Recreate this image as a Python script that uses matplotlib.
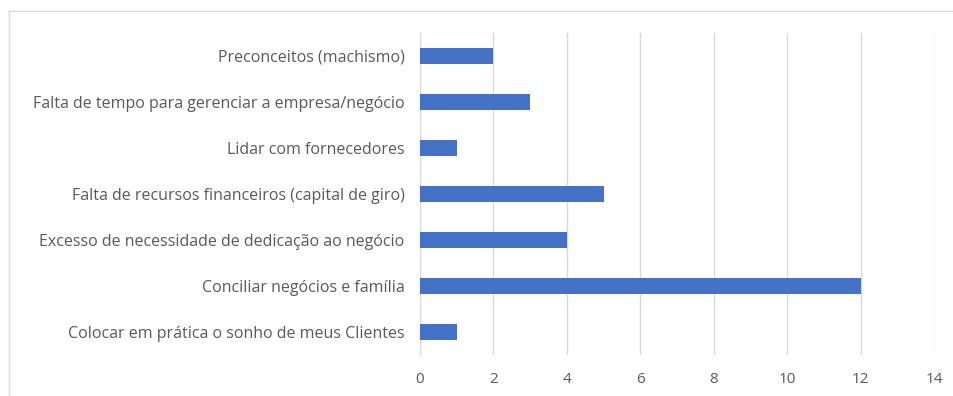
import matplotlib.pyplot as plt
from matplotlib.lines import Line2D

categories = [
    "Colocar em prática o sonho de meus Clientes",
    "Conciliar negócios e família",
    "Excesso de necessidade de dedicação ao negócio",
    "Falta de recursos financeiros (capital de giro)",
    "Lidar com fornecedores",
    "Falta de tempo para gerenciar a empresa/negócio",
    "Preconceitos (machismo)",
]
values = [1, 12, 4, 5, 1, 3, 2]
xticks = [0, 2, 4, 6, 8, 10, 12, 14]

plt.rcParams['font.family'] = ['Open Sans', 'DejaVu Sans']

fig = plt.figure(figsize=(9.54, 3.96), dpi=100)
ax = fig.add_axes([420 / 954, 1 - 355 / 396, 514 / 954, 322 / 396])

ax.barh(range(len(categories)), values, height=0.35, color='#4472C4', zorder=3)
ax.set_yticks(range(len(categories)))
ax.set_yticklabels(categories, fontsize=11.5, color='#595959')
ax.set_ylim(-0.5, len(categories) - 0.5)

ax.set_xlim(0, 14)
ax.set_xticks(xticks)
ax.set_xticklabels([str(t) for t in xticks], fontsize=11, color='#595959')
ax.tick_params(axis='y', length=0, pad=11)
ax.tick_params(axis='x', length=0, pad=12)
ax.grid(axis='x', color='#d9d9d9', linewidth=1, zorder=0)

for s in ['top', 'right', 'bottom']:
    ax.spines[s].set_visible(False)
ax.spines['left'].set_color('#d9d9d9')

# chart frame (left and top edges visible)
fig.add_artist(Line2D([9 / 954, 9 / 954], [0, 1 - 11 / 396], transform=fig.transFigure, color='#d9d9d9', lw=1))
fig.add_artist(Line2D([9 / 954, 1], [1 - 11 / 396, 1 - 11 / 396], transform=fig.transFigure, color='#d9d9d9', lw=1))

fig.savefig('out.png', dpi=100)
